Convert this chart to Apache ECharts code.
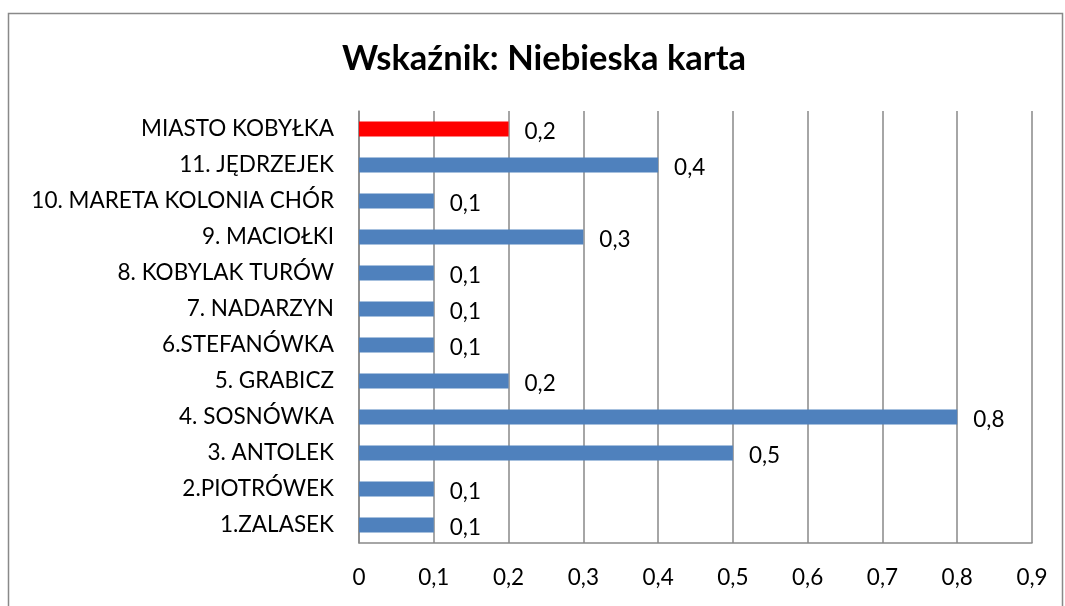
<!DOCTYPE html>
<html><head><meta charset="utf-8">
<script src="https://cdn.jsdelivr.net/npm/echarts@6/dist/echarts.min.js"></script>
<style>html,body{margin:0;padding:0;background:#fff}#c{width:1065px;height:606px}</style>
</head><body><div id="c"></div>
<script>
const categories = ["MIASTO KOBYŁKA","11. JĘDRZEJEK","10. MARETA KOLONIA CHÓR","9. MACIOŁKI","8. KOBYLAK TURÓW","7. NADARZYN","6.STEFANÓWKA","5. GRABICZ","4. SOSNÓWKA","3. ANTOLEK","2.PIOTRÓWEK","1.ZALASEK"];
const values = [0.2,0.4,0.1,0.3,0.1,0.1,0.1,0.2,0.8,0.5,0.1,0.1];
const highlight = ["MIASTO KOBYŁKA"];
const FONT = "Lato";
const chart = echarts.init(document.getElementById('c'), null, {renderer:'canvas'});
const fmt = v => String(Math.round(v*10)/10).replace('.', ',');
chart.setOption({
  animation:false,
  backgroundColor:'#fff',
  title:{text:'Wskaźnik: Niebieska karta',left:337,top:36,textStyle:{fontFamily:FONT,fontWeight:'bold',fontSize:34.5,color:'#000'}},
  graphic:[{type:'rect',shape:{x:8.5,y:13.5,width:1054,height:620},style:{fill:'none',stroke:'#898989',lineWidth:1.5},silent:true}],
  grid:{left:359,right:33,top:111,bottom:63,containLabel:false},
  xAxis:{type:'value',min:0,max:0.9,interval:0.1,
    axisLine:{show:true,lineStyle:{color:'#898989',width:1.5}},axisTick:{show:false},
    splitLine:{show:true,lineStyle:{color:'#898989',width:1.5}},
    axisLabel:{fontFamily:FONT,fontSize:22.5,color:'#000',margin:23,formatter:fmt}},
  yAxis:{type:'category',data:categories,inverse:true,
    axisLine:{show:true,lineStyle:{color:'#898989',width:1.5}},axisTick:{show:false},
    axisLabel:{fontFamily:FONT,fontSize:22.5,color:'#000',margin:25}},
  series:[{type:'bar',barCategoryGap:'58%',
    data:values.map((v,i)=>({value:v,itemStyle:{color:highlight.includes(categories[i])?'#FF0000':'#4F81BD'}})),
    label:{show:true,position:'right',distance:16,fontFamily:FONT,fontSize:22.5,color:'#000',offset:[0,3],formatter:p=>fmt(p.value)}}]
});
</script></body></html>
